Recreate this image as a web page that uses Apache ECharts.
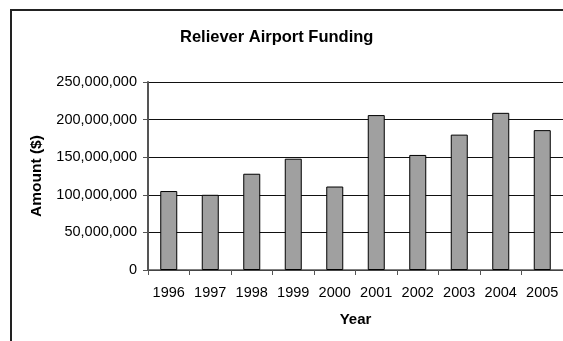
<!DOCTYPE html>
<html>
<head>
<meta charset="utf-8">
<script src="https://cdn.jsdelivr.net/npm/echarts@6/dist/echarts.min.js"></script>
<style>
  html, body { margin: 0; padding: 0; background: #fff; }
  #chart { width: 563px; height: 341px; }
</style>
</head>
<body>
<div id="chart"></div>
<script>
// values
const years = ['1996', '1997', '1998', '1999', '2000', '2001', '2002', '2003', '2004', '2005'];
const funding = [105000000, 100000000, 128000000, 148000000, 111000000, 206000000, 153000000, 180000000, 209000000, 186000000];
const yTicks = [0, 50000000, 100000000, 150000000, 200000000, 250000000];

const chart = echarts.init(document.getElementById('chart'));
const font = 'Liberation Sans, Arial, sans-serif';

const options = {
  animation: false,
  title: {
    text: 'Reliever Airport Funding',
    left: 175,
    top: 24,
    textStyle: { fontFamily: font, fontSize: 16.5, fontWeight: 'bold', color: '#000' }
  },
  graphic: [{
    type: 'rect',
    shape: { x: 11, y: 10, width: 600, height: 400 },
    style: { fill: 'none', stroke: '#222', lineWidth: 2 },
    silent: true
  }],
  grid: { left: 148, top: 82, width: 416, height: 188 },
  xAxis: {
    type: 'category',
    data: years,
    name: 'Year',
    nameLocation: 'middle',
    nameGap: 42,
    nameTextStyle: { fontFamily: font, fontSize: 15, fontWeight: 'bold', color: '#000' },
    axisLine: { lineStyle: { color: '#555', width: 1.5 } },
    axisTick: { show: true, length: 5, interval: 0, lineStyle: { color: '#555' } },
    axisLabel: { interval: 0, hideOverlap: false, margin: 15, fontFamily: font, fontSize: 14.5, color: '#000' }
  },
  yAxis: {
    type: 'value',
    min: yTicks[0],
    max: yTicks[yTicks.length - 1],
    interval: yTicks[1] - yTicks[0],
    name: 'Amount ($)',
    nameLocation: 'middle',
    nameGap: 103,
    nameTextStyle: { fontFamily: font, fontSize: 15.5, fontWeight: 'bold', color: '#000' },
    axisLine: { show: true, lineStyle: { color: '#555', width: 2 } },
    axisTick: { show: true, length: 5, lineStyle: { color: '#555' } },
    axisLabel: {
      margin: 11,
      fontFamily: font,
      fontSize: 14.5,
      color: '#000',
      formatter: v => v.toLocaleString('en-US')
    },
    splitLine: { show: true, lineStyle: { color: '#111', width: 1 } }
  },
  series: [{
    type: 'bar',
    data: funding,
    barWidth: 17,
    itemStyle: { color: '#a0a0a0', borderColor: '#000', borderWidth: 1 }
  }]
};

chart.setOption(options);
</script>
</body>
</html>
